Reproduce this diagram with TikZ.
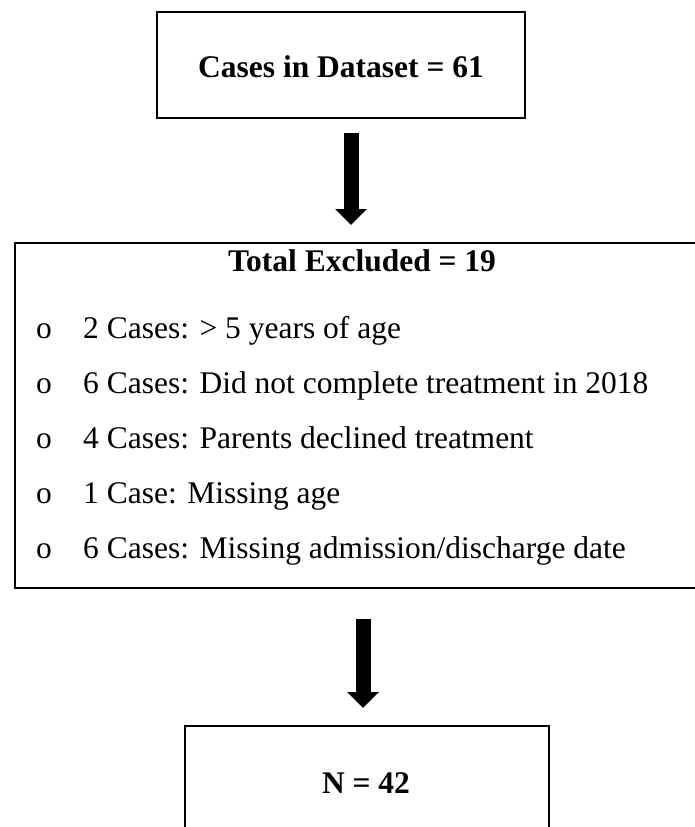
\documentclass[tikz,border=0pt]{standalone}
\usepackage{fontspec}
\setmainfont{Liberation Serif}
\usetikzlibrary{arrows.meta}
\begin{document}
\begin{tikzpicture}[x=1pt,y=-1pt,
  box/.style={draw,line width=2pt,rectangle,inner sep=0pt},
  blockarrow/.style={line width=15pt,-{Triangle[width=31pt,length=16pt]}},
  big/.style={font=\fontsize{31.5}{37}\selectfont\bfseries,anchor=base,inner sep=0pt},
  bul/.style={font=\fontsize{31.5}{37}\selectfont,anchor=base,inner sep=0pt},
  item/.style={font=\fontsize{31.5}{37}\selectfont,anchor=base west,inner sep=0pt},
  ]
\useasboundingbox (0,0) rectangle (695,827);
\clip (0,0) rectangle (695,827);
% top box
\node[box,minimum width=368pt,minimum height=106pt] (top) at (341,65) {};
\node[big] (toptext) at (341,77) {Cases in Dataset = 61};
% middle box
\node[box,anchor=north west,minimum width=720pt,minimum height=345pt] (excl) at (14,242) {};
\node[big] (title) at (362,271) {Total Excluded = 19};
\node[bul] (b1) at (44,338) {o};
\node[item] (i1) at (83,338) {2 Cases: > 5 years of age};
\node[bul] (b2) at (44,393) {o};
\node[item] (i2) at (83,393) {6 Cases: Did not complete treatment in 2018};
\node[bul] (b3) at (44,448) {o};
\node[item] (i3) at (83,448) {4 Cases: Parents declined treatment};
\node[bul] (b4) at (44,503) {o};
\node[item] (i4) at (83,503) {1 Case: Missing age};
\node[bul] (b5) at (44,558) {o};
\node[item] (i5) at (83,558) {6 Cases: Missing admission/discharge date};
% bottom box
\node[box,anchor=north west,minimum width=364pt,minimum height=200pt] (fin) at (184,725) {};
\node[big] (n) at (366,793) {N = 42};
% arrows
\coordinate (a1s) at (351,133);
\coordinate (a1e) at (351,225);
\coordinate (a2s) at (363,619);
\coordinate (a2e) at (363,708);
\draw[blockarrow] (a1s) -- (a1e);
\draw[blockarrow] (a2s) -- (a2e);
\end{tikzpicture}
\end{document}
